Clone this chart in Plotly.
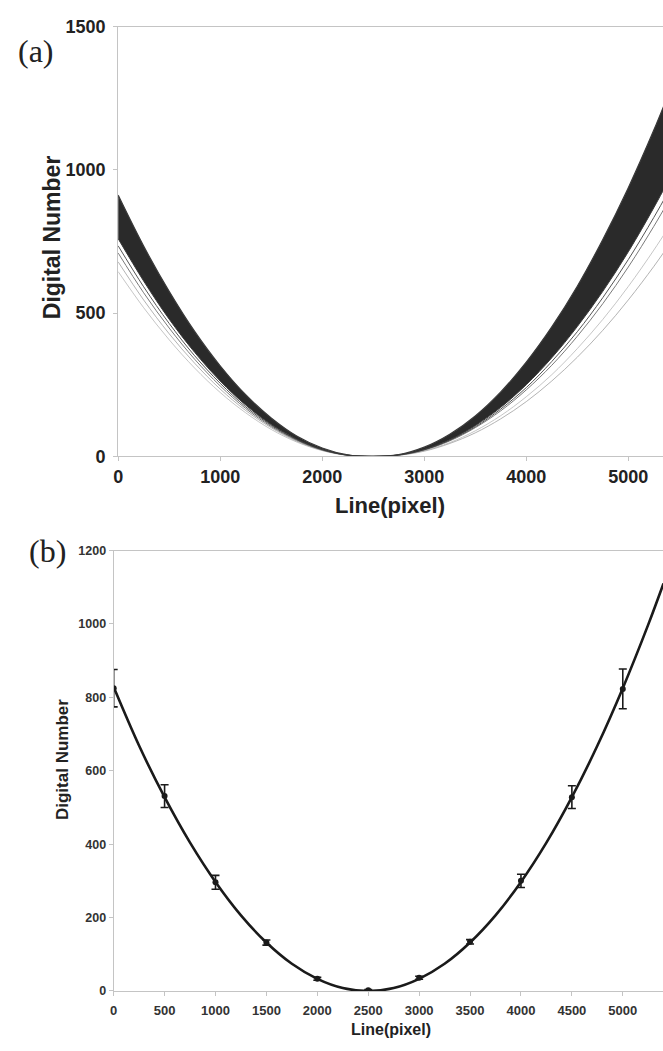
import plotly.graph_objects as go

# ---- (a) normalised digital-number profiles along the line direction ----
line_px = [0, 250, 500, 750, 1000, 1250, 1500, 1750, 2000, 2250, 2500, 2750,
           3000, 3250, 3500, 3750, 4000, 4250, 4500, 4750, 5000, 5250, 5400]
band_upper = [912, 734, 576, 436, 316, 215, 134, 71, 29, 5, 0, 6,
              32, 77, 141, 225, 329, 452, 594, 757, 938, 1139, 1270]
band_lower = [760, 612, 479, 363, 263, 179, 111, 60, 24, 4, 0, 5,
              24, 58, 107, 171, 250, 344, 453, 576, 714, 868, 967]
profile_1 = [735, 592, 464, 351, 255, 173, 108, 58, 23, 4, 0, 5,
             23, 56, 103, 165, 240, 331, 435, 554, 687, 834, 929]
profile_2 = [710, 571, 448, 339, 246, 167, 104, 56, 22, 4, 0, 4,
             22, 54, 100, 159, 232, 318, 419, 533, 661, 803, 895]
profile_3 = [679, 546, 428, 325, 235, 160, 100, 53, 21, 4, 0, 4,
             18, 45, 82, 131, 191, 263, 346, 440, 546, 663, 739]
profile_4 = [645, 519, 407, 308, 223, 152, 94, 50, 20, 3, 0, 4,
             20, 48, 89, 142, 208, 285, 376, 478, 593, 720, 802]

# ---- (b) mean profile with standard deviation and fitted curve ----
sample_line = [0, 500, 1000, 1500, 2000, 2500, 3000, 3500, 4000, 4500, 5000]
sample_mean = [825, 531, 296, 132, 33, 2, 36, 134, 300, 528, 823]
sample_std = [51, 31, 19, 7, 4, 2, 4, 6, 18, 31, 54]
fit_line = [0, 250, 500, 750, 1000, 1250, 1500, 1750, 2000, 2250, 2500, 2750,
            3000, 3250, 3500, 3750, 4000, 4250, 4500, 4750, 5000, 5250, 5400]
fit_dn = [828, 668, 528, 404, 297, 206, 132, 74, 33, 8, 0, 8,
          33, 74, 132, 206, 297, 404, 528, 668, 825, 998, 1110]

ticks_a_x = [0, 1000, 2000, 3000, 4000, 5000]
ticks_a_y = [0, 500, 1000, 1500]
ticks_b_x = [0, 500, 1000, 1500, 2000, 2500, 3000, 3500, 4000, 4500, 5000]
ticks_b_y = [0, 200, 400, 600, 800, 1000, 1200]

W, H = 663, 1051
SANS = "Liberation Sans"
SERIF = "Liberation Serif"
AXIS_GREY = "#c4c4c4"

fig = go.Figure()

# faint individual profiles below the dense band
for prof, col, wid in [(profile_4, "#b8b8b8", 0.8), (profile_3, "#a0a0a0", 0.8),
                       (profile_2, "#7a7a7a", 1.0), (profile_1, "#555555", 1.0)]:
    fig.add_trace(go.Scatter(x=line_px, y=prof, mode="lines",
                             line=dict(color=col, width=wid, shape="spline"),
                             xaxis="x", yaxis="y", showlegend=False,
                             hoverinfo="skip"))

# dense band of profiles
fig.add_trace(go.Scatter(x=line_px, y=band_lower, mode="lines",
                         line=dict(color="#3a3a3a", width=1, shape="spline"),
                         xaxis="x", yaxis="y", showlegend=False))
fig.add_trace(go.Scatter(x=line_px, y=band_upper, mode="lines", fill="tonexty",
                         fillcolor="#2a2a2a",
                         line=dict(color="#3a3a3a", width=1.2, shape="spline"),
                         xaxis="x", yaxis="y", showlegend=False))

# panel (b): fitted curve and sample means with error bars
fig.add_trace(go.Scatter(x=fit_line, y=fit_dn, mode="lines",
                         line=dict(color="#1a1a1a", width=2.6, shape="spline"),
                         xaxis="x2", yaxis="y2", showlegend=False))
fig.add_trace(go.Scatter(x=sample_line, y=sample_mean, mode="markers",
                         marker=dict(color="#1a1a1a", size=6),
                         error_y=dict(type="data", array=sample_std,
                                      color="#1a1a1a", thickness=1.6, width=4),
                         xaxis="x2", yaxis="y2", showlegend=False))


def px_x(p):
    return p / W


def px_y(p):
    return 1 - p / H


axis_common = dict(showgrid=False, zeroline=False, showline=True,
                   linecolor=AXIS_GREY, linewidth=1, ticks="outside",
                   tickcolor=AXIS_GREY, ticklen=4, tickwidth=1)

fig.update_layout(
    width=W, height=H,
    margin=dict(l=0, r=0, t=0, b=0),
    paper_bgcolor="white", plot_bgcolor="white",
    xaxis=dict(domain=[px_x(114), 1], range=[0, 5340], anchor="y",
               tickvals=ticks_a_x, mirror=True, ticklabelstandoff=0,
               tickfont=dict(family=SANS, size=18, color="#222", weight="bold"),
               **axis_common),
    yaxis=dict(domain=[px_y(455), px_y(17)], range=[0, 1500], anchor="x",
               tickvals=ticks_a_y, ticklabelstandoff=4,
               tickfont=dict(family=SANS, size=18, color="#222", weight="bold"),
               **axis_common),
    xaxis2=dict(domain=[px_x(109.5), 1], range=[0, 5395], anchor="y2",
                tickvals=ticks_b_x, mirror=True, ticklabelstandoff=3,
                tickfont=dict(family=SANS, size=13, color="#333", weight="bold"),
                **axis_common),
    yaxis2=dict(domain=[px_y(1000), px_y(551)], range=[0, 1200], anchor="x2",
                tickvals=ticks_b_y,
                tickfont=dict(family=SANS, size=12.5, color="#333", weight="bold"),
                **axis_common),
)

annotations = [
    dict(text="(a)", x=px_x(31.5), y=px_y(42), font=dict(family=SERIF, size=32, color="#222")),
    dict(text="(b)", x=px_x(42.5), y=px_y(551), font=dict(family=SERIF, size=32, color="#222")),
    dict(text="Digital Number", x=px_x(47), y=px_y(232), textangle=-90,
         font=dict(family=SANS, size=23, color="#222", weight="bold")),
    dict(text="Line(pixel)", x=px_x(388), y=px_y(505),
         font=dict(family=SANS, size=22, color="#222", weight="bold")),
    dict(text="Digital Number", x=px_x(58), y=px_y(764), textangle=-90,
         font=dict(family=SANS, size=17, color="#222", weight="bold")),
    dict(text="Line(pixel)", x=px_x(389), y=px_y(1039),
         font=dict(family=SANS, size=16, color="#222", weight="bold")),
]
for a in annotations:
    a.update(xref="paper", yref="paper", xanchor="center", yanchor="middle",
             showarrow=False)
fig.update_layout(annotations=annotations)

fig.write_html("out.html")
